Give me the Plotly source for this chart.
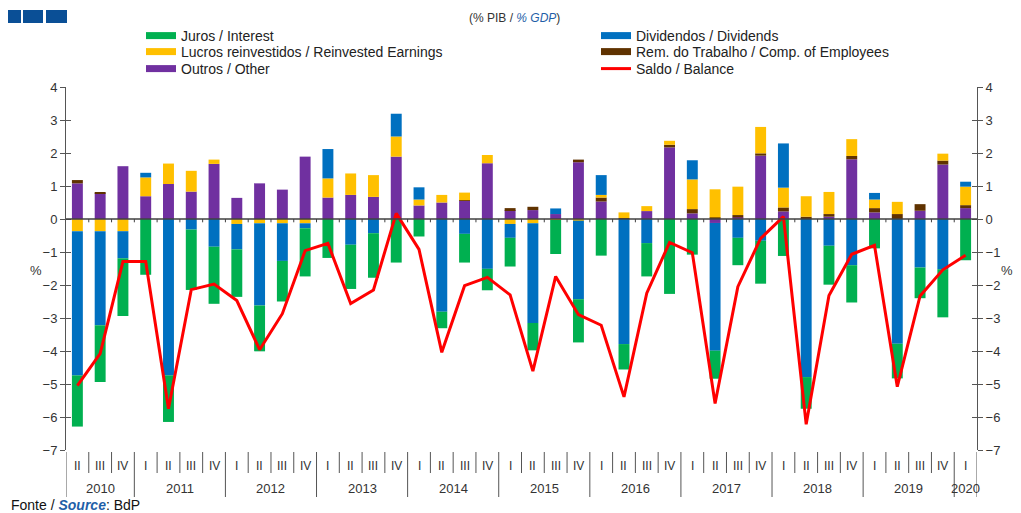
import numpy as np
import plotly.graph_objects as go

# ---------------- data ----------------
years = ["2010", "2011", "2012", "2013", "2014", "2015", "2016", "2017", "2018", "2019", "2020"]
quarters_per_year = [["II", "III", "IV"]] + [["I", "II", "III", "IV"]] * 9 + [["I"]]

outros = [1.08, 0.78, 1.60, 0.69, 1.06, 0.83, 1.67, 0.64, 1.08, 0.89, 1.89, 0.65, 0.73, 0.67, 1.89, 0.41,
          0.50, 0.55, 1.69, 0.27, 0.27, 0.15, 1.72, 0.53, 0.00, 0.24, 2.17, 0.17, -0.12, 0.05, 1.92, 0.23,
          0.00, 0.07, 1.81, 0.20, 0.00, 0.25, 1.65, 0.33]
rem = [0.10, 0.02, 0.00, 0.00, 0.00, 0.00, 0.00, 0.00, 0.00, 0.00, 0.00, 0.00, 0.00, 0.00, 0.00, 0.00,
       0.00, 0.02, 0.00, 0.06, 0.10, 0.00, 0.08, 0.12, 0.03, 0.00, 0.08, 0.13, 0.05, 0.07, 0.07, 0.12,
       0.07, 0.08, 0.10, 0.13, 0.15, 0.20, 0.12, 0.09]
lucros = [-0.37, -0.37, -0.37, 0.57, 0.62, 0.63, 0.13, -0.15, -0.13, -0.13, -0.13, 0.58, 0.65, 0.66, 0.61, 0.18,
          0.23, 0.23, 0.25, -0.15, -0.13, -0.03, -0.05, 0.08, 0.17, 0.15, 0.12, 0.90, 0.85, 0.86, 0.80, 0.60,
          0.62, 0.67, 0.51, 0.26, 0.37, 0.00, 0.21, 0.56]
dividendos = [-4.37, -2.85, -0.82, 0.14, -4.74, -0.32, -0.84, -0.77, -2.49, -1.14, -0.15, 0.89, -0.78, -0.43, 0.69, 0.37,
              -2.81, -0.45, -1.51, -0.42, -3.02, 0.17, -2.38, 0.60, -3.79, -0.73, 0.00, 0.58, -3.87, -0.57, -0.66, 1.34,
              -4.79, -0.81, -1.40, 0.20, -3.78, -1.47, -1.52, 0.15]
juros = [-1.55, -1.72, -1.75, -1.69, -1.41, -1.83, -1.73, -1.44, -1.39, -1.23, -1.46, -1.18, -1.34, -1.35, -1.32, -0.53,
         -0.50, -0.87, -0.65, -0.87, -0.83, -1.03, -1.31, -1.11, -0.77, -1.01, -2.27, -1.08, -0.85, -0.83, -1.30, -1.12,
         -0.96, -1.18, -1.13, -0.89, -1.05, -0.93, -1.46, -1.25]
saldo = [-5.05, -4.08, -1.29, -1.29, -5.75, -2.14, -1.97, -2.47, -3.96, -2.87, -0.96, -0.74, -2.56, -2.15, 0.17, -0.92,
         -4.04, -2.02, -1.77, -2.30, -4.61, -1.74, -2.90, -3.22, -5.39, -2.25, -0.71, -1.02, -5.59, -2.05, -0.59, 0.07,
         -6.22, -2.32, -1.07, -0.80, -5.08, -2.33, -1.54, -1.10]

y_ticks = [4, 3, 2, 1, 0, -1, -2, -3, -4, -5, -6, -7]

# ---------------- styles ----------------
C_JUROS = "#00B050"
C_DIV = "#0070C0"
C_LUC = "#FFC000"
C_REM = "#5F3200"
C_OUT = "#7030A0"
C_SALDO = "#FF0000"
FONT = "Liberation Sans, Arial, sans-serif"
TXT = "#333333"

quarters = [q for qs in quarters_per_year for q in qs]
n = len(quarters)
x = np.arange(n)

fig = go.Figure()

bar_series = [
    ("Outros / Other", outros, C_OUT),
    ("Rem. do Trabalho / Comp. of Employees", rem, C_REM),
    ("Lucros reinvestidos / Reinvested Earnings", lucros, C_LUC),
    ("Dividendos / Dividends", dividendos, C_DIV),
    ("Juros / Interest", juros, C_JUROS),
]
for name, vals, col in bar_series:
    fig.add_trace(go.Bar(x=x, y=vals, name=name, marker=dict(color=col, line=dict(width=0)),
                         width=0.48, showlegend=False, legendgroup=name))

# legend proxies (wide rectangle-like symbols), one legend per row
colors = {nm: c for nm, _, c in bar_series}
legend_rows = [
    ("legend", ["Juros / Interest", "Dividendos / Dividends"]),
    ("legend2", ["Lucros reinvestidos / Reinvested Earnings", "Rem. do Trabalho / Comp. of Employees"]),
    ("legend3", ["Outros / Other"]),
]
for lg, names in legend_rows:
    for nm in names:
        fig.add_trace(go.Scatter(x=[None], y=[None], mode="lines", name=nm, legendgroup=nm, legend=lg,
                                 line=dict(color=colors[nm], width=7), yaxis="y2"))

fig.add_trace(go.Scatter(x=x, y=saldo, mode="lines", name="Saldo / Balance", legend="legend3",
                         line=dict(color=C_SALDO, width=3)))

# ---------------- layout geometry ----------------
# page pixel targets; the page body adds an 8px offset, so the figure is sized/placed to compensate
OFF = 8
W, H = 1021 - OFF, 513 - OFF
PL, PR, PT, PB = 66, 977, 87, 450          # plot area in page pixels
L, T = PL - OFF, PT - OFF
R, B = W - (PR - OFF), H - (PB - OFF)
pw, ph = PR - PL, PB - PT


def py2paper(py):
    return (PB - py) / ph


def px2paper(px):
    return (px - PL) / pw


shapes = []
# zero line with small boundary ticks
shapes.append(dict(type="line", xref="x", yref="y", x0=-0.5, x1=n - 0.5, y0=0, y1=0,
                   line=dict(color="#404040", width=1.5), layer="above"))
for i in range(1, n):
    shapes.append(dict(type="line", xref="x", yref="y", x0=i - 0.5, x1=i - 0.5, y0=0, y1=-0.1,
                       line=dict(color="#404040", width=1), layer="above"))

# x-axis category dividers and labels
annotations = []
year_bounds = []
pos = 0
for yr, qs in zip(years, quarters_per_year):
    start = pos
    for q in qs:
        annotations.append(dict(x=pos, y=py2paper(466), xref="x", yref="paper", text=q, showarrow=False,
                                font=dict(family=FONT, size=12, color=TXT), xanchor="center", yanchor="middle"))
        pos += 1
    annotations.append(dict(x=(start + pos - 1) / 2, y=py2paper(488), xref="x", yref="paper", text=yr,
                            showarrow=False, font=dict(family=FONT, size=13, color=TXT),
                            xanchor="center", yanchor="middle"))
    year_bounds.append(start - 0.5)
year_bounds.append(n - 0.5)
for i in range(n + 1):
    b = i - 0.5
    is_year = any(abs(b - yb) < 1e-9 for yb in year_bounds)
    y1 = py2paper(497) if is_year else py2paper(473)
    shapes.append(dict(type="line", xref="x", yref="paper", x0=b, x1=b, y0=py2paper(452), y1=y1,
                       line=dict(color="#555555", width=1)))

# top-left logo blocks
for x0, x1 in [(0, 21), (23, 43), (46, 67)]:
    shapes.append(dict(type="rect", xref="paper", yref="paper", x0=px2paper(x0), x1=px2paper(x1),
                       y0=py2paper(23), y1=py2paper(10), fillcolor="#0A4F96", line=dict(width=0)))

# "%" axis labels
annotations.append(dict(x=px2paper(28), y=py2paper(270), xref="paper", yref="paper", text="%", showarrow=False,
                        font=dict(family=FONT, size=13, color=TXT)))
annotations.append(dict(x=px2paper(1015), y=py2paper(270), xref="paper", yref="paper", text="%", showarrow=False,
                        font=dict(family=FONT, size=13, color=TXT)))
# source
annotations.append(dict(x=px2paper(9), y=py2paper(505), xref="paper", yref="paper", xanchor="left",
                        yanchor="middle",
                        text="Fonte / <i><b><span style='color:#1F5FA8'>Source</span></b></i>: BdP",
                        showarrow=False, font=dict(family=FONT, size=14, color="#111111")))
# title
annotations.append(dict(x=px2paper(514), y=py2paper(18), xref="paper", yref="paper", xanchor="center",
                        yanchor="middle", showarrow=False,
                        text="(% PIB / <i><span style='color:#1F5FA8'>% GDP</span></i>)",
                        font=dict(family=FONT, size=12, color=TXT)))

yax = dict(range=[-7, 4], tickvals=y_ticks, showgrid=False, zeroline=False, showline=True,
           linecolor="#555555", linewidth=1, ticks="outside", ticklen=5, tickcolor="#555555",
           tickfont=dict(family=FONT, size=13, color=TXT), fixedrange=True)
yax_in = dict(range=[-7, 4], tickvals=y_ticks, showgrid=False, zeroline=False, showline=False,
              ticks="inside", ticklen=5, tickcolor="#555555", showticklabels=False, fixedrange=True,
              overlaying="y", anchor="x")

legend_common = dict(orientation="h", x=px2paper(141), xanchor="left", yref="container",
                     yanchor="middle", entrywidth=410, entrywidthmode="pixels", traceorder="normal",
                     font=dict(family=FONT, size=14, color="#222222"), bgcolor="rgba(0,0,0,0)")

fig.update_layout(
    width=W, height=H,
    margin=dict(l=L, r=R, t=T, b=B, autoexpand=False),
    plot_bgcolor="white", paper_bgcolor="white",
    barmode="relative",
    bargap=0.52,
    font=dict(family=FONT, color=TXT),
    xaxis=dict(range=[-0.5, n - 0.5], showticklabels=False, showgrid=False, zeroline=False,
               showline=False, ticks="", fixedrange=True),
    yaxis=yax,
    yaxis2=dict(yax, overlaying="y", side="right", anchor="x"),
    yaxis3=dict(yax_in, side="left"),
    yaxis4=dict(yax_in, side="right"),
    legend=dict(legend_common, y=1 - (36 - OFF) / H),
    legend2=dict(legend_common, y=1 - (52 - OFF) / H),
    legend3=dict(legend_common, y=1 - (69 - OFF) / H),
    shapes=shapes,
    annotations=annotations,
    showlegend=True,
)

# invisible anchors so the inside-tick overlay axes are drawn
fig.add_trace(go.Scatter(x=[None], y=[None], yaxis="y3", showlegend=False, hoverinfo="skip"))
fig.add_trace(go.Scatter(x=[None], y=[None], yaxis="y4", showlegend=False, hoverinfo="skip"))

fig.write_html("out.html")
